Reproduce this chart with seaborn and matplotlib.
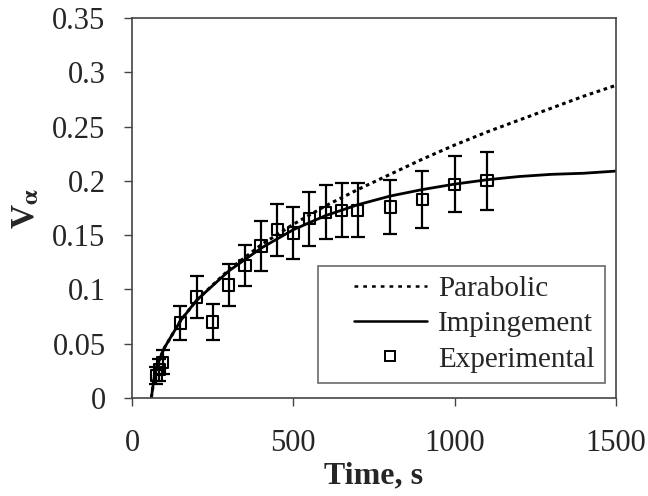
#!/usr/bin/env python3

import pandas as pd
import seaborn as sns
import matplotlib.pyplot as plt
from matplotlib.lines import Line2D
from matplotlib.legend_handler import HandlerLine2D

# model curves
curve_t = [60, 70, 80, 100, 150, 200, 300, 400, 500, 600, 700, 800, 900,
           1000, 1100, 1200, 1300, 1400, 1500]
parabolic = [0.0, 0.022, 0.032, 0.046, 0.071, 0.090, 0.118, 0.141, 0.160,
             0.177, 0.192, 0.206, 0.220, 0.233, 0.245, 0.256, 0.267, 0.278, 0.288]
impingement = [0.0, 0.022, 0.032, 0.046, 0.071, 0.090, 0.117, 0.138, 0.155,
               0.168, 0.178, 0.186, 0.192, 0.197, 0.201, 0.204, 0.206, 0.207, 0.209]

# experimental points with error bars
exp_t = [75, 85, 95, 150, 200, 250, 300, 350, 400, 450, 500, 550, 600, 650,
         700, 800, 900, 1000, 1100]
exp_v = [0.021, 0.026, 0.033, 0.069, 0.093, 0.070, 0.104, 0.122, 0.140, 0.155,
         0.152, 0.165, 0.171, 0.173, 0.173, 0.176, 0.183, 0.197, 0.200]
exp_err = [0.008, 0.010, 0.011, 0.016, 0.019, 0.017, 0.019, 0.019, 0.023, 0.024,
           0.024, 0.025, 0.025, 0.025, 0.025, 0.025, 0.026, 0.026, 0.027]

x_ticks = [0, 500, 1000, 1500]
y_ticks = [0, 0.05, 0.1, 0.15, 0.2, 0.25, 0.3, 0.35]
y_tick_labels = ["0", "0.05", "0.1", "0.15", "0.2", "0.25", "0.3", "0.35"]

if __name__ == "__main__":
    sns.set_style("white")
    plt.rcParams["font.family"] = ["Liberation Serif", "DejaVu Serif"]
    plt.rcParams["mathtext.fontset"] = "stix"

    curves = pd.DataFrame({"t": curve_t, "parabolic": parabolic,
                           "impingement": impingement})
    exp = pd.DataFrame({"t": exp_t, "v": exp_v, "err": exp_err})

    fig = plt.figure(figsize=(6.48, 4.96), dpi=100)
    ax = fig.add_axes([0.2037, 0.1976, 0.7469, 0.7661])

    sns.lineplot(data=curves, x="t", y="parabolic", ax=ax, color="black",
                 lw=2.2, linestyle=(0, (1.2, 1.2)))
    sns.lineplot(data=curves, x="t", y="impingement", ax=ax, color="black", lw=2)

    ax.errorbar(exp["t"], exp["v"], yerr=exp["err"], fmt="none",
                ecolor="black", elinewidth=1.6, capsize=5, capthick=1.6)
    sns.scatterplot(data=exp, x="t", y="v", ax=ax, marker="s", s=65,
                    facecolor="none", edgecolor="black", linewidth=1.5, zorder=5)

    ax.set_xlim(0, 1500)
    ax.set_ylim(0, 0.35)
    ax.set_xticks(x_ticks)
    ax.set_yticks(y_ticks)
    ax.set_yticklabels(y_tick_labels)
    ax.tick_params(axis="both", labelsize=22, direction="out", length=6,
                   width=1, color="#444444", bottom=True, left=True)
    ax.tick_params(axis="x", pad=16)
    ax.tick_params(axis="y", pad=13)

    for s in ax.spines.values():
        s.set_color("#444444")
        s.set_linewidth(1.2)

    ax.set_xlabel("Time, s", fontsize=23, fontweight="bold", labelpad=3)
    ax.set_ylabel(r"V$_{\mathbf{\alpha}}$", fontsize=24, fontweight="bold",
                  labelpad=8)

    handles = [
        Line2D([], [], color="black", lw=1.8, linestyle=(0, (1.5, 2))),
        Line2D([], [], color="black", lw=1.8),
        Line2D([], [], color="black", marker="s", markersize=7,
               markerfacecolor="none", markeredgewidth=1.4, linestyle="none"),
    ]
    # leave some empty room left of the legend handles, like the original
    hmap = {h: HandlerLine2D(xpad=0.9) for h in handles}
    leg = ax.legend(handles, ["Parabolic", "Impingement", "Experimental"],
                    handler_map=hmap,
                    loc="lower right", bbox_to_anchor=(0.977, 0.04),
                    fontsize=21, frameon=True, fancybox=False,
                    handlelength=3.4, handletextpad=0.38, labelspacing=0.3,
                    borderpad=0.35, borderaxespad=0)
    leg.get_frame().set_edgecolor("#444444")
    leg.get_frame().set_linewidth(1.2)

    fig.savefig("out.png", dpi=100)
